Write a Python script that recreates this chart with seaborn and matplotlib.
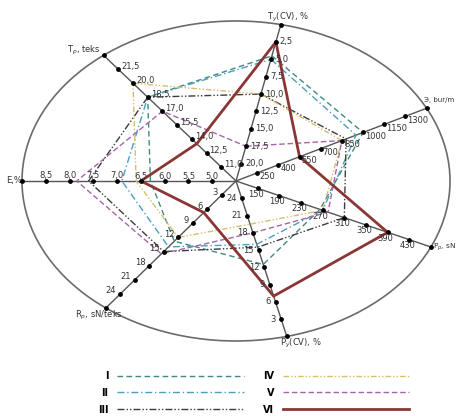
import matplotlib
matplotlib.use('Agg')
import matplotlib.pyplot as plt
from matplotlib.patches import Ellipse
import seaborn as sns
import pandas as pd
import numpy as np

# axes of the radar, counter-clockwise order starting at the top one
axis_names = ['T$_y$(CV), %', 'Э, bur/m', 'P$_p$, sN', 'P$_y$(CV), %',
              'R$_p$, sN/teks', 'E,%', 'T$_p$, teks']
# value at the centre and value at the rim for each axis
axis_lo = [22.5, 100, 110, 27, 0, 4.5, 9.5]
axis_hi = [0.0, 1450, 470, 0, 27, 9.0, 23.0]
axis_ticks = [
    [2.5, 5.0, 7.5, 10.0, 12.5, 15.0, 17.5, 20.0],
    [250, 400, 550, 700, 850, 1000, 1150, 1300],
    [150, 190, 230, 270, 310, 350, 390, 430],
    [3, 6, 9, 12, 15, 18, 21, 24],
    [3, 6, 9, 12, 15, 18, 21, 24],
    [5.0, 5.5, 6.0, 6.5, 7.0, 7.5, 8.0, 8.5],
    [11.0, 12.5, 14.0, 15.5, 17.0, 18.5, 20.0, 21.5],
]

series = ['I', 'II', 'III', 'IV', 'V', 'VI']
vals_I = [4.5, 1000, 265, 12.5, 12.8, 6.3, 18.5]
vals_II = [5.0, 950, 270, 16, 14, 6.9, 18.5]
vals_III = [10.0, 880, 310, 15.5, 15, 7.6, 18.5]
vals_IV = [10.0, 850, 270, 19.5, 12, 6.6, 20.0]
vals_V = [17.5, 850, 280, 18, 15.5, 7.85, 17.0]
vals_VI = [2.5, 550, 390, 7, 6.7, 6.5, 13.5]
all_vals = [vals_I, vals_II, vals_III, vals_IV, vals_V, vals_VI]

# styling
colors = ['#3e8a7e', '#4a9fbf', '#3c3c3c', '#d8bd6a', '#a565a8', '#8b3535']
styles = [(0, (4, 2.5)), (0, (5, 2, 1, 2)), (0, (5, 1.5, 1, 1.5, 1, 1.5)),
          (0, (4, 1.5, 1, 1.5, 1, 1.5)), (0, (4, 2)), '-']
widths = [1.0, 1.0, 1.0, 1.0, 1.0, 2.0]

# geometry (pixel space, y down)
cx, cy = 236, 181
ea, eb = 214, 160
angles = np.radians([74.0, 20.9, -18.7, -71.9, 224.3, 180.0, 136.5])
rim = 1 / np.sqrt((np.cos(angles) / ea) ** 2 + (np.sin(angles) / eb) ** 2)


def to_xy(k, v):
    f = (v - axis_lo[k]) / (axis_hi[k] - axis_lo[k])
    return cx + f * rim[k] * np.cos(angles[k]), cy - f * rim[k] * np.sin(angles[k])


fig = plt.figure(figsize=(4.58, 4.16), dpi=100)
ax = fig.add_axes([0, 0, 1, 1])

ax.add_patch(Ellipse((cx, cy), 2 * ea, 2 * eb, fill=False, ec='#6b6b6b', lw=1.2))

label_pos = [(288, 17, 'center', 6), (424, 100, 'left', 5), (433, 247, 'left', 5.3),
             (280, 343, 'left', 6), (75, 315, 'left', 6), (6, 180, 'left', 6),
             (101, 50, 'right', 6)]
tick_off = [(4, 0, 'left'), (2, 4, 'left'), (-2, 6, 'center'), (-5, 0, 'right'),
            (-4, -3, 'right'), (0, -5, 'center'), (3, -3, 'left')]

for k in range(len(axis_names)):
    ex, ey = cx + rim[k] * np.cos(angles[k]), cy - rim[k] * np.sin(angles[k])
    ax.plot([cx, ex], [cy, ey], color='#555555', lw=1.0, zorder=1)
    ax.scatter([ex], [ey], s=6, color='black', zorder=5)
    for t in axis_ticks[k]:
        tx, ty = to_xy(k, t)
        ax.scatter([tx], [ty], s=6, color='black', zorder=5)
        txt = f'{t:.1f}'.replace('.', ',') if isinstance(t, float) else str(t)
        dx, dy, ha = tick_off[k]
        ax.text(tx + dx, ty + dy, txt, fontsize=6, ha=ha, va='center',
                color='#333333', zorder=6)
    lx, ly, ha, fs = label_pos[k]
    ax.text(lx, ly, axis_names[k], fontsize=fs, ha=ha, va='center', color='#333333')

handles = []
for name, vals, col, ls, lw in zip(series, all_vals, colors, styles, widths):
    pts = [to_xy(k, v) for k, v in enumerate(vals)]
    pts.append(pts[0])
    df = pd.DataFrame({'x': [p[0] for p in pts], 'y': [p[1] for p in pts]})
    sns.lineplot(data=df, x='x', y='y', sort=False, estimator=None, color=col,
                 linestyle=ls, lw=lw, ax=ax, legend=False,
                 zorder=4 if name == 'VI' else 3)
    line = ax.lines[-1]
    line.set_label(name)
    handles.append(line)

ax.legend(handles, series, ncol=2, loc='upper left',
          bbox_to_anchor=(98 / 458, 1 - 371 / 416), frameon=False,
          prop={'size': 7, 'weight': 'bold'}, markerfirst=False,
          handlelength=13.0, handletextpad=0.9, columnspacing=2.0,
          labelspacing=0.7, borderpad=0, borderaxespad=0)

ax.set_xlim(0, 458)
ax.set_ylim(416, 0)
ax.set_axis_off()
fig.savefig('out.png', dpi=100)
